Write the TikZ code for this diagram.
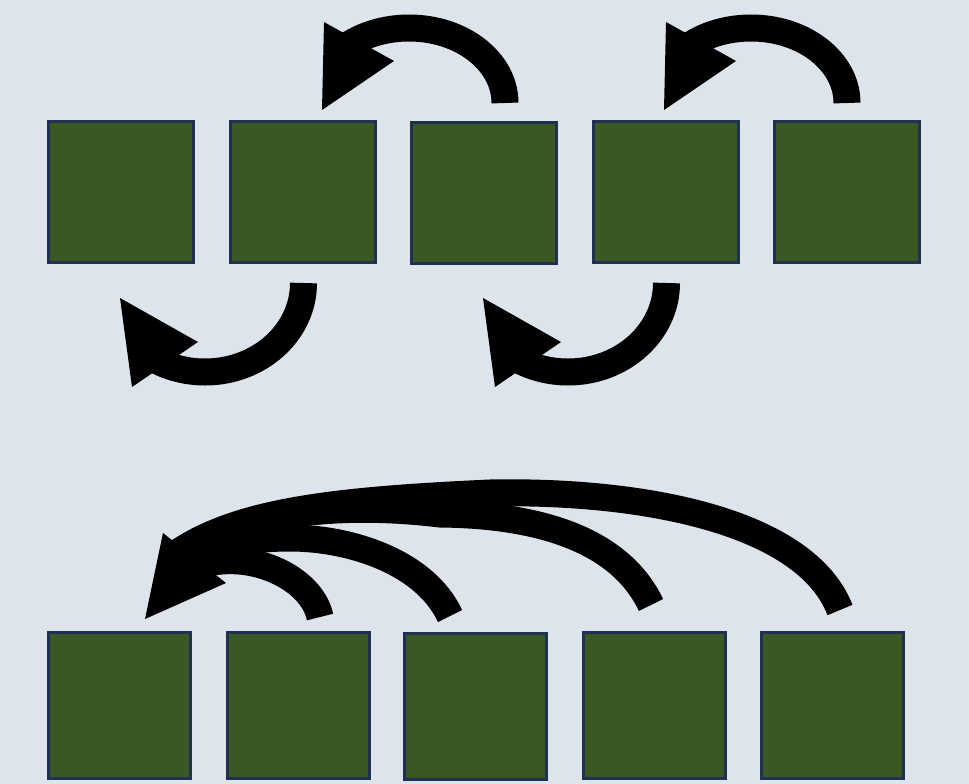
\documentclass[tikz,border=0pt]{standalone}
\definecolor{bg}{HTML}{DEE4EC}
\definecolor{cellfill}{HTML}{3A5724}
\definecolor{cellline}{HTML}{1F3151}
\tikzset{
  cell/.style={draw=cellline, fill=cellfill, line width=3pt, inner sep=0pt, outer sep=0pt},
  topcell/.style={cell, minimum width=145pt, minimum height=141pt},
  lowcell/.style={cell, minimum width=142pt, minimum height=146pt},
  shaft/.style={draw=black, line width=27pt, line cap=butt},
  arrowhead/.style={fill=black, draw=none}
}
\begin{document}
\begin{tikzpicture}[x=1pt, y=-1pt]
  % canvas
  \fill[bg] (0,0) rectangle (969,784);
  \useasboundingbox (0,0) rectangle (969,784);

  % upper row of cells
  \node[topcell] (t1) at (121,192)   {};
  \node[topcell] (t2) at (302.5,192) {};
  \node[topcell] (t3) at (484,192.5) {};
  \node[topcell] (t4) at (665.5,192) {};
  \node[topcell] (t5) at (846.5,192) {};

  % lower row of cells
  \node[lowcell] (b1) at (119.5,705.5) {};
  \node[lowcell] (b2) at (298,705.5)   {};
  \node[lowcell] (b3) at (475.5,706)   {};
  \node[lowcell] (b4) at (654.5,705.5) {};
  \node[lowcell] (b5) at (832.5,705.5) {};

  % curved arrows over the upper row: t3 -> t2 and t5 -> t4
  \foreach \dx/\n in {0/a, 342/b} {
    \begin{scope}[xshift=\dx]
      \coordinate (\n tail) at (505,103);
      \coordinate (\n tip)  at (322,110);
      \coordinate (\n wl)   at (324,22);
      \coordinate (\n wr)   at (394,61);
      \draw[shaft] (\n tail) arc[start angle=0, end angle=-130, x radius=96, y radius=75];
      \fill[arrowhead] (\n wl) -- (\n tip) -- (\n wr) -- cycle;
    \end{scope}
  }

  % curved arrows under the upper row: t2 -> t1 and t4 -> t3
  \foreach \dx/\n in {0/c, 363/d} {
    \begin{scope}[xshift=\dx]
      \coordinate (\n tail) at (303.5,283);
      \coordinate (\n tip)  at (120,298);
      \coordinate (\n wl)   at (132,387);
      \coordinate (\n wr)   at (198,342);
      \draw[shaft] (\n tail) arc[start angle=0, end angle=120, x radius=98.5, y radius=89];
      \fill[arrowhead] (\n wl) -- (\n tip) -- (\n wr) -- cycle;
    \end{scope}
  }

  % fan of arrows over the lower row, all ending at b1
  \coordinate (f2) at (320,617);
  \coordinate (f3) at (450,616);
  \coordinate (f4) at (651,605);
  \coordinate (f5) at (840,610);
  \coordinate (ftip) at (145,619);
  \coordinate (fwl)  at (163,533);
  \coordinate (fwr)  at (226,583);
  \draw[shaft] (f2) .. controls (312,578) and (250,548) .. (197,566);
  \draw[shaft] (f3) .. controls (425,562) and (350,538) .. (290,538)
                    .. controls (250,538) and (215,545) .. (190,559);
  \draw[shaft] (f4) .. controls (620,540) and (540,515) .. (440,514)
                    .. controls (340,502) and (240,512) .. (185,555);
  \draw[shaft] (f5) .. controls (805,520) and (640,490) .. (490,493)
                    .. controls (340,500) and (240,510) .. (177,553);
  \fill[arrowhead] (fwl) -- (ftip) -- (fwr) -- cycle;
\end{tikzpicture}
\end{document}
